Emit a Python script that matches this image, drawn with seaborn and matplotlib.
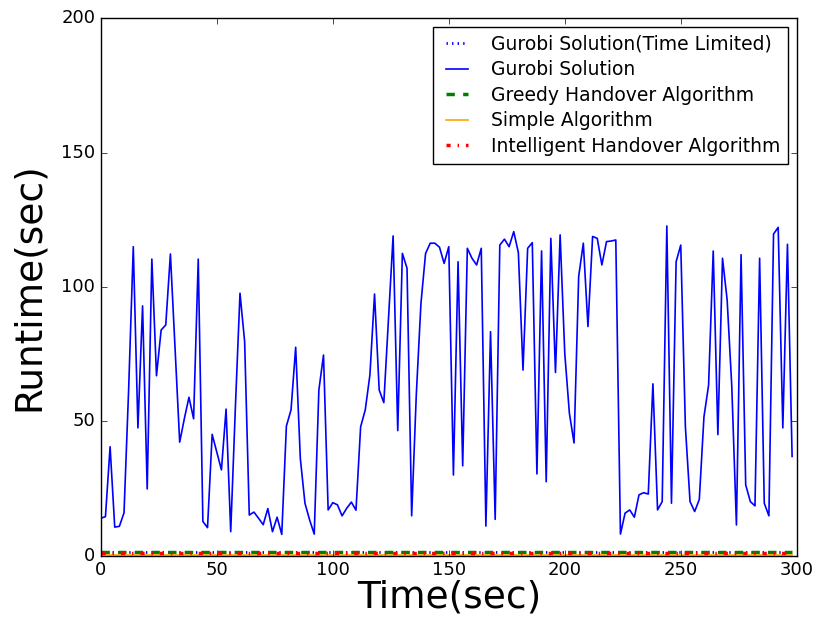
import matplotlib
matplotlib.use("Agg")
import matplotlib.pyplot as plt
import seaborn as sns
import numpy as np
import pandas as pd

# ---- data ----
time_sec = list(range(0, 300, 2))
gurobi = [
    14, 14.6, 40.6, 10.7, 11, 16, 62, 115, 47.6, 93,
    24.9, 110.4, 67, 84, 85.9, 112.3, 77, 42.3, 51, 59,
    51, 110.4, 12.8, 10.5, 45.2, 38.6, 32, 54.6, 9, 55,
    97.7, 79.7, 15.2, 16.3, 14, 11.6, 17.6, 9, 14.4, 8,
    48.3, 54.3, 77.6, 36.3, 19.6, 13.4, 8.1, 61.7, 74.7, 17.1,
    19.8, 19, 14.9, 17.7, 20, 17, 48, 54.3, 67.3, 97.4,
    61.7, 57, 88, 119, 46.6, 112.5, 107, 14.9, 60, 93.9,
    112.5, 116.3, 116.3, 114.8, 108.8, 115, 30.1, 109.4, 33.5, 114.4,
    110.7, 108.2, 114.4, 11.1, 83.4, 13.6, 115.6, 117.8, 115, 120.6,
    112.8, 69.1, 114.4, 116.5, 30.5, 113.4, 27.6, 118.1, 68.2, 119.4,
    75.3, 53, 42, 103.9, 116.3, 85.3, 118.8, 118.1, 108.2, 116.9,
    117.1, 117.5, 8.1, 15.9, 17.1, 14.4, 22.7, 23.5, 23, 64,
    17.1, 20.2, 122.7, 19.6, 109.4, 115.6, 48, 20.2, 16.5, 21,
    51.7, 63.5, 113.4, 45.1, 110.7, 95.2, 63, 11.5, 112, 26.4,
    20.2, 18.6, 110.7, 19.6, 14.9, 119.7, 122.2, 47.6, 115.9, 37,
]
flat_time = [0, 298]
gurobi_limited = [1.6, 1.6]
greedy = [1.3, 1.3]
simple = [0.4, 0.4]
intelligent = [1.0, 1.0]

labels = ["Gurobi Solution(Time Limited)", "Gurobi Solution",
          "Greedy Handover Algorithm", "Simple Algorithm",
          "Intelligent Handover Algorithm"]

plt.style.use("classic")
plt.rcParams["font.family"] = ["DejaVu Sans"]

fig = plt.figure(figsize=(8.13, 6.26), dpi=100)
fig.patch.set_facecolor("white")
ax = fig.add_axes([0.124, 0.112, 0.856, 0.859])
ax.set_facecolor("white")

df_g = pd.DataFrame({"t": time_sec, "v": gurobi})
df_flat = pd.DataFrame({"t": flat_time, "lim": gurobi_limited, "greedy": greedy,
                        "simple": simple, "intel": intelligent})

sns.lineplot(data=df_flat, x="t", y="lim", ax=ax, color="blue", lw=2,
             linestyle=":", label=labels[0])
sns.lineplot(data=df_g, x="t", y="v", ax=ax, color="blue", lw=1.2,
             label=labels[1])
sns.lineplot(data=df_flat, x="t", y="greedy", ax=ax, color="green", lw=2.5,
             linestyle="--", label=labels[2])
sns.lineplot(data=df_flat, x="t", y="simple", ax=ax, color="orange", lw=1.2,
             label=labels[3])
sns.lineplot(data=df_flat, x="t", y="intel", ax=ax, color="red", lw=2.5,
             linestyle="-.", label=labels[4])

ax.set_xlim(0, 300)
ax.set_ylim(0, 200)
ax.set_xticks([0, 50, 100, 150, 200, 250, 300])
ax.set_yticks([0, 50, 100, 150, 200])
ax.tick_params(labelsize=13, direction="in", top=True, right=True)
ax.set_xlabel("Time(sec)", fontsize=27, labelpad=0)
ax.set_ylabel("Runtime(sec)", fontsize=27, labelpad=10)

leg = ax.legend(loc="upper right", fontsize=13.5, frameon=True, fancybox=False,
                borderpad=0.4, labelspacing=0.35, handlelength=1.8,
                handletextpad=0.9, borderaxespad=0,
                bbox_to_anchor=(0.987, 0.983))
leg.get_frame().set_edgecolor("black")

fig.savefig("out.png", dpi=100, facecolor="white")
